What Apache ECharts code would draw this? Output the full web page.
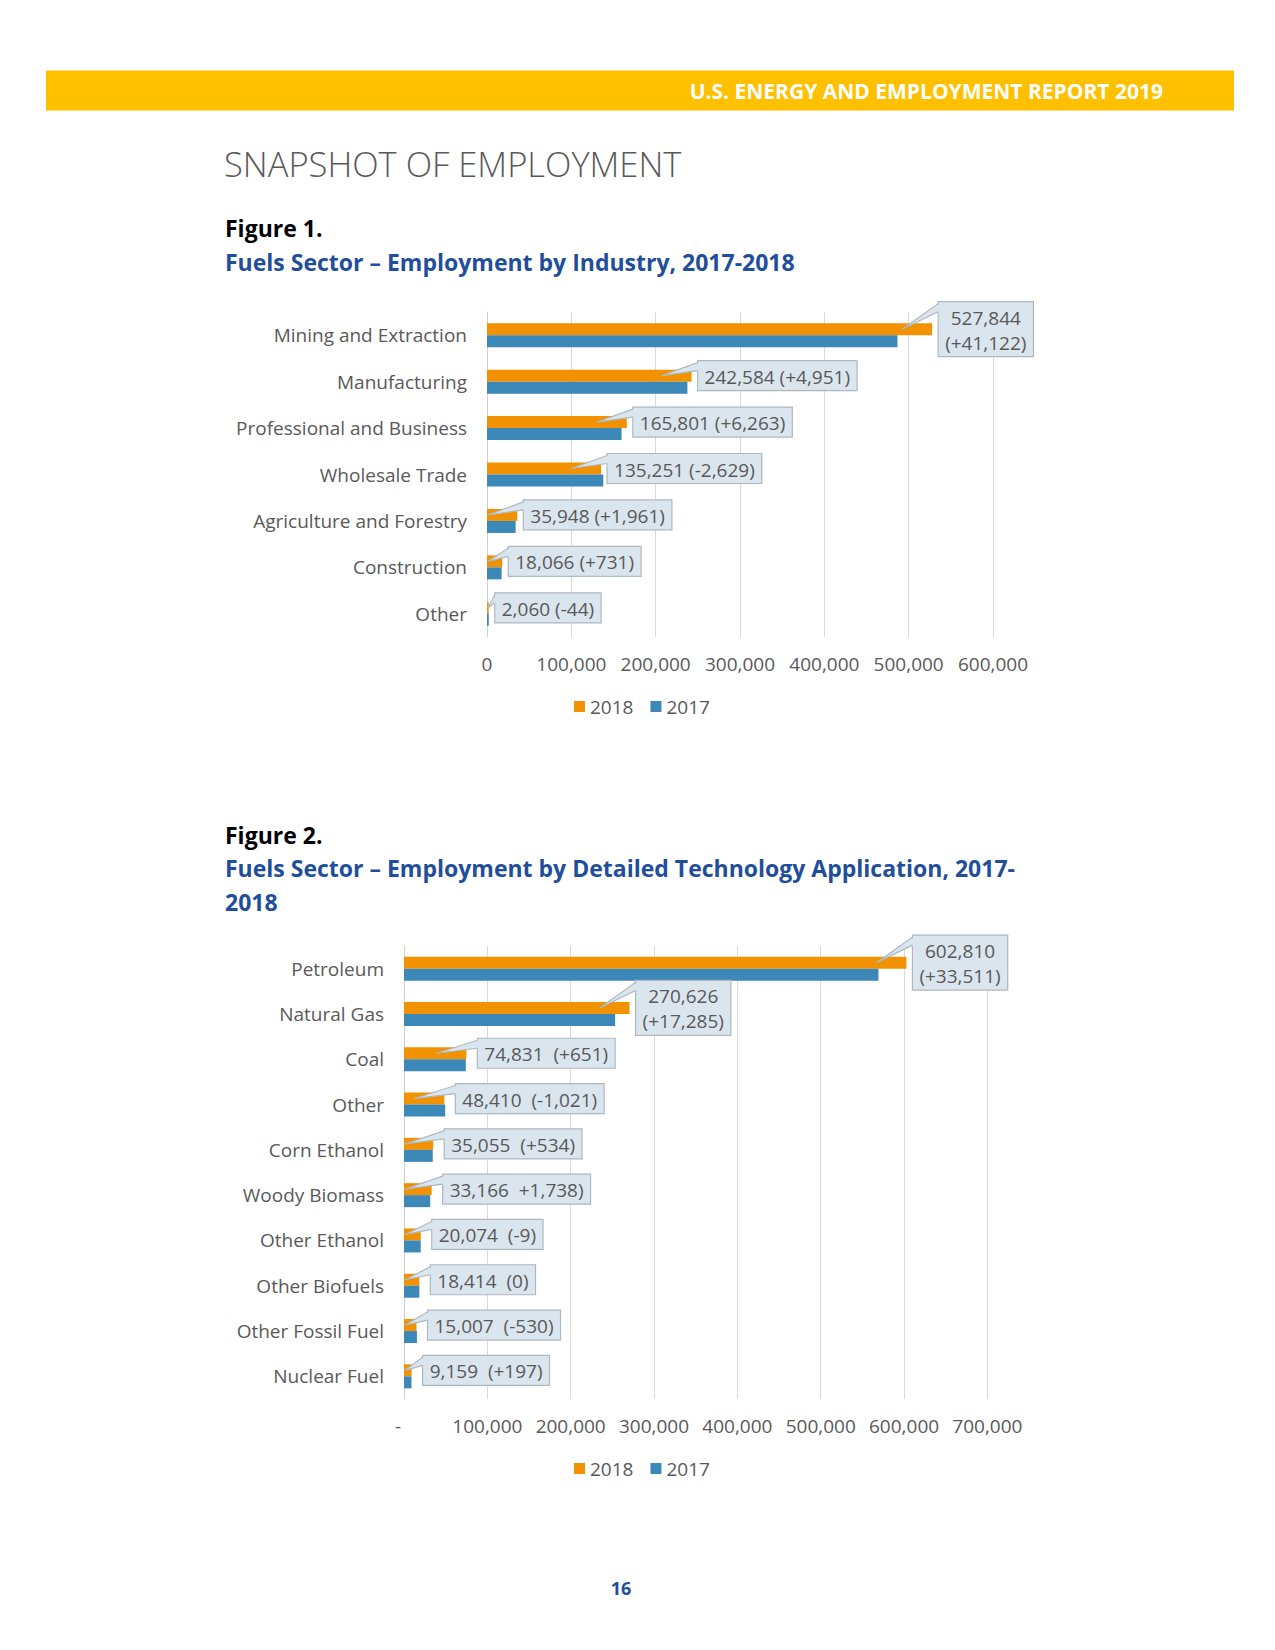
<!DOCTYPE html>
<html><head><meta charset="utf-8">
<script src="https://cdn.jsdelivr.net/npm/echarts@6/dist/echarts.min.js"></script>
<style>html,body{margin:0;padding:0;background:#fff;} #c{width:1275px;height:1650px;}</style>
</head><body><div id="c"></div>
<script>
// ---------- Data ----------
const seriesNames = ['2018', '2017'];

const fig1Categories = ['Mining and Extraction', 'Manufacturing', 'Professional and Business', 'Wholesale Trade', 'Agriculture and Forestry', 'Construction', 'Other'];
const fig1Values2018 = [527844, 242584, 165801, 135251, 35948, 18066, 2060];
const fig1Values2017 = [486722, 237633, 159538, 137880, 33987, 17335, 2104];
const fig1Labels = ['527,844\n(+41,122)', '242,584 (+4,951)', '165,801 (+6,263)', '135,251 (-2,629)', '35,948 (+1,961)', '18,066 (+731)', '2,060 (-44)'];
const fig1TickLabels = ['0', '100,000', '200,000', '300,000', '400,000', '500,000', '600,000'];

const fig2Categories = ['Petroleum', 'Natural Gas', 'Coal', 'Other', 'Corn Ethanol', 'Woody Biomass', 'Other Ethanol', 'Other Biofuels', 'Other Fossil Fuel', 'Nuclear Fuel'];
const fig2Values2018 = [602810, 270626, 74831, 48410, 35055, 33166, 20074, 18414, 15007, 9159];
const fig2Values2017 = [569299, 253341, 74180, 49431, 34521, 31428, 20083, 18414, 15537, 8962];
const fig2Labels = ['602,810\n(+33,511)', '270,626\n(+17,285)', '74,831  (+651)', '48,410  (-1,021)', '35,055  (+534)', '33,166  +1,738)', '20,074  (-9)', '18,414  (0)', '15,007  (-530)', '9,159  (+197)'];
const fig2TickLabels = ['-', '100,000', '200,000', '300,000', '400,000', '500,000', '600,000', '700,000'];

// ---------- Styles ----------
const FONT = '"Open Sans", "Noto Sans", sans-serif';
const FS = 19;
const GRAY = '#595959';
const ORANGE = '#F39200';
const BLUE = '#3C88B8';
const BOX_FILL = '#DAE5EE';
const BOX_STROKE = '#AEB8C0';
const TITLE_BLUE = '#1F4E9C';
const BAR_W = 12;

const mctx = document.createElement('canvas').getContext('2d');
mctx.font = FS + 'px ' + FONT;
function measure(t) { return mctx.measureText(t).width; }

function calloutSeries(gridIdx, values, labels, gapFn) {
  return {
    type: 'custom', xAxisIndex: gridIdx, yAxisIndex: gridIdx, z: 10, silent: true, clip: false,
    encode: { x: 0, y: 1 },
    data: values.map((v, i) => [v, i]),
    renderItem: function (params, api) {
      const v = api.value(0), idx = api.value(1);
      const end = api.coord([v, idx]);
      const x0 = api.coord([0, idx])[0];
      const cy = end[1] - BAR_W / 2;
      const lines = labels[idx].split('\n');
      const tw = Math.max.apply(null, lines.map(measure));
      const w = tw + 14, h = lines.length * 25 + 5;
      const left = end[0] + gapFn(lines.length);
      const top = cy - h / 2;
      const tip = [Math.max(x0 + 1, end[0] - 30), cy];
      const b1 = [left, top + 2], b2 = [left, top + 10];
      return {
        type: 'group', children: [
          { type: 'rect', shape: { x: left, y: top, width: w, height: h }, style: { fill: BOX_FILL, stroke: BOX_STROKE, lineWidth: 1.2 } },
          { type: 'polygon', shape: { points: [tip, [left + 1.5, b1[1]], [left + 1.5, b2[1]]] }, style: { fill: BOX_FILL } },
          { type: 'polyline', shape: { points: [b1, tip, b2] }, style: { stroke: BOX_STROKE, fill: null, lineWidth: 1.2 } },
          { type: 'text', x: left + w / 2, y: cy + 1, style: { text: labels[idx], fill: GRAY, font: FS + 'px ' + FONT, align: 'center', verticalAlign: 'middle', textAlign: 'center', textVerticalAlign: 'middle', lineHeight: 25 } }
        ]
      };
    }
  };
}

function xAxisFor(gridIdx, max, ticks, margin) {
  return {
    type: 'value', gridIndex: gridIdx, min: 0, max: max, interval: 100000,
    axisLine: { show: false }, axisTick: { show: false },
    splitLine: { show: true, lineStyle: { color: '#D9D9D9', width: 1 } },
    axisLabel: {
      margin: margin, fontSize: FS, color: GRAY, fontFamily: FONT,
      formatter: function (val) {
        const t = ticks[Math.round(val / 100000)];
        return t === '-' ? '{d|-}' : t;
      },
      rich: { d: { fontSize: FS, color: GRAY, fontFamily: FONT, padding: [0, 12, 0, 0] } }
    }
  };
}
function yAxisFor(gridIdx, cats) {
  return {
    type: 'category', gridIndex: gridIdx, data: cats, inverse: true,
    axisLine: { show: true, lineStyle: { color: '#D0D0D0', width: 1 } },
    axisTick: { show: false },
    axisLabel: { margin: 20, fontSize: FS, color: GRAY, fontFamily: FONT }
  };
}
function barSeries(name, gridIdx, data, color) {
  return { name: name, type: 'bar', xAxisIndex: gridIdx, yAxisIndex: gridIdx, data: data, barWidth: BAR_W, barGap: '0%', itemStyle: { color: color }, silent: true };
}
function txt(x, y, text, font, fill, align) {
  return { type: 'text', x: x, y: y, silent: true, style: { text: text, font: font, fill: fill, align: align || 'left', verticalAlign: 'middle', textAlign: align || 'left', textVerticalAlign: 'middle' } };
}

const chart = echarts.init(document.getElementById('c'), null, { renderer: 'svg', width: 1275, height: 1650 });
chart.setOption({
  backgroundColor: '#ffffff',
  animation: false,
  textStyle: { fontFamily: FONT },
  graphic: [
    { type: 'rect', shape: { x: 46, y: 70.5, width: 1188, height: 40 }, style: { fill: '#FFC000' }, silent: true },
    txt(1163, 90.5, 'U.S. ENERGY AND EMPLOYMENT REPORT 2019', 'bold 21px ' + FONT, '#FFFFFF', 'right'),
    txt(224, 163, 'SNAPSHOT OF EMPLOYMENT', '300 34.5px ' + FONT, GRAY),
    txt(225, 228, 'Figure 1.', 'bold 23px ' + FONT, '#000000'),
    txt(225, 262, 'Fuels Sector – Employment by Industry, 2017-2018', 'bold 23px ' + FONT, TITLE_BLUE),
    txt(225, 835, 'Figure 2.', 'bold 23px ' + FONT, '#000000'),
    txt(225, 868, 'Fuels Sector – Employment by Detailed Technology Application, 2017-', 'bold 23px ' + FONT, TITLE_BLUE),
    txt(225, 902, '2018', 'bold 23px ' + FONT, TITLE_BLUE),
    txt(621, 1588, '16', 'bold 18px ' + FONT, TITLE_BLUE, 'center')
  ],
  grid: [
    { left: 487, top: 312, width: 506, height: 325 },
    { left: 404, top: 946, width: 583.4, height: 453 }
  ],
  legend: [
    { data: seriesNames, left: 574, top: 697, padding: 0, itemWidth: 11, itemHeight: 11, itemGap: 17, icon: 'rect', textStyle: { fontSize: FS, color: GRAY, fontFamily: FONT }, selectedMode: false },
    { data: seriesNames, left: 574, top: 1459, padding: 0, itemWidth: 11, itemHeight: 11, itemGap: 17, icon: 'rect', textStyle: { fontSize: FS, color: GRAY, fontFamily: FONT }, selectedMode: false }
  ],
  xAxis: [xAxisFor(0, 600000, fig1TickLabels, 17), xAxisFor(1, 700000, fig2TickLabels, 17)],
  yAxis: [yAxisFor(0, fig1Categories), yAxisFor(1, fig2Categories)],
  series: [
    barSeries(seriesNames[0], 0, fig1Values2018, ORANGE),
    barSeries(seriesNames[1], 0, fig1Values2017, BLUE),
    barSeries(seriesNames[0], 1, fig2Values2018, ORANGE),
    barSeries(seriesNames[1], 1, fig2Values2017, BLUE),
    calloutSeries(0, fig1Values2018, fig1Labels, function () { return 6; }),
    calloutSeries(1, fig2Values2018, fig2Labels, function (n) { return n > 1 ? 6 : 11; })
  ]
});
</script>
</body></html>
